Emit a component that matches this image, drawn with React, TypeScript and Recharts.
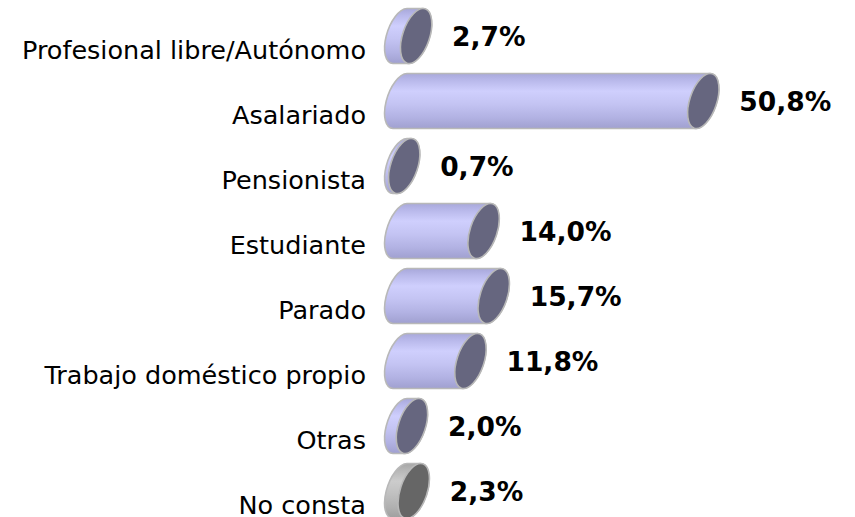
import React from 'react';
import { BarChart, Bar, XAxis, YAxis, LabelList } from 'recharts';

const categories = [
  'Profesional libre/Autónomo',
  'Asalariado',
  'Pensionista',
  'Estudiante',
  'Parado',
  'Trabajo doméstico propio',
  'Otras',
  'No consta',
];
const values = [2.7, 50.8, 0.7, 14.0, 15.7, 11.8, 2.0, 2.3];
const valueLabels = ['2,7%', '50,8%', '0,7%', '14,0%', '15,7%', '11,8%', '2,0%', '2,3%'];

const data = categories.map((name, i) => ({ name, value: values[i], label: valueLabels[i] }));

const FONT = '"DejaVu Sans", Verdana, sans-serif';
const TILT = 18.5;

const BLUE = {
  stops: [
    ['0%', '#a8a8da'],
    ['12%', '#b8b8ea'],
    ['32%', '#cfcffd'],
    ['55%', '#c4c4f3'],
    ['80%', '#b2b2e3'],
    ['100%', '#a0a0d0'],
  ],
  cap: '#66667f',
};
const GREY = {
  stops: [
    ['0%', '#a6a6a6'],
    ['12%', '#b6b6b6'],
    ['32%', '#cccccc'],
    ['55%', '#c0c0c0'],
    ['80%', '#b0b0b0'],
    ['100%', '#9e9e9e'],
  ],
  cap: '#666666',
};
const STROKE = '#b8b8b8';

function CylinderBar(props: any) {
  const { x, y, width, height, index } = props;
  const pal = index === categories.length - 1 ? GREY : BLUE;
  const cy = y + height / 2;
  const yExt = height / 2;
  const k = yExt / 27.5;
  const rx = 13.5 * k;
  const ry = 28.65 * k;
  const dx = 7 * k;
  const x0 = x;
  const x1 = x + Math.max(width, 0);
  const gid = `cyl-grad-${index}`;
  const d = [
    `M ${x0 + dx} ${cy - yExt}`,
    `L ${x1 + dx} ${cy - yExt}`,
    `A ${rx} ${ry} ${TILT} 0 1 ${x1 - dx} ${cy + yExt}`,
    `L ${x0 - dx} ${cy + yExt}`,
    `A ${rx} ${ry} ${TILT} 0 1 ${x0 + dx} ${cy - yExt}`,
    'Z',
  ].join(' ');
  return (
    <g>
      <defs>
        <linearGradient id={gid} x1="0" y1="0" x2="0" y2="1">
          {pal.stops.map(([o, c]) => (
            <stop key={o} offset={o} stopColor={c} />
          ))}
        </linearGradient>
      </defs>
      <path d={d} fill={`url(#${gid})`} stroke={STROKE} strokeWidth={1.6} strokeLinejoin="round" />
      <ellipse
        cx={x1}
        cy={cy}
        rx={rx}
        ry={ry}
        transform={`rotate(${TILT} ${x1} ${cy})`}
        fill={pal.cap}
        stroke={STROKE}
        strokeWidth={1.6}
      />
    </g>
  );
}

function CategoryTick(props: any) {
  const { y, payload } = props;
  return (
    <text
      x={366}
      y={y + 14 + 9}
      textAnchor="end"
      fontFamily={FONT}
      fontSize={25.5}
      fill="#000"
    >
      {payload.value}
    </text>
  );
}

function ValueLabel(props: any) {
  const { x, y, width, height, value } = props;
  return (
    <text
      x={x + width + 36}
      y={y + height / 2 + 9.5}
      textAnchor="start"
      fontFamily={FONT}
      fontSize={26.5}
      fontWeight="bold"
      fill="#000"
    >
      {value}
    </text>
  );
}

export default function App() {
  return (
    <div style={{ position: 'absolute', left: 0, top: 0, width: 855, height: 517, overflow: 'hidden', background: '#fff' }}>
      <BarChart
        width={855}
        height={524}
        data={data}
        layout="vertical"
        margin={{ top: 3.5, right: 96.8, bottom: 0.5, left: 0 }}
        barCategoryGap={0}
        style={{ overflow: 'visible' }}
      >
        <XAxis type="number" domain={[0, 60]} hide />
        <YAxis
          type="category"
          dataKey="name"
          width={400}
          axisLine={false}
          tickLine={false}
          tick={<CategoryTick />}
          interval={0}
        />
        <Bar dataKey="value" barSize={55} shape={<CylinderBar />} isAnimationActive={false}>
          <LabelList dataKey="label" content={<ValueLabel />} />
        </Bar>
      </BarChart>
    </div>
  );
}
